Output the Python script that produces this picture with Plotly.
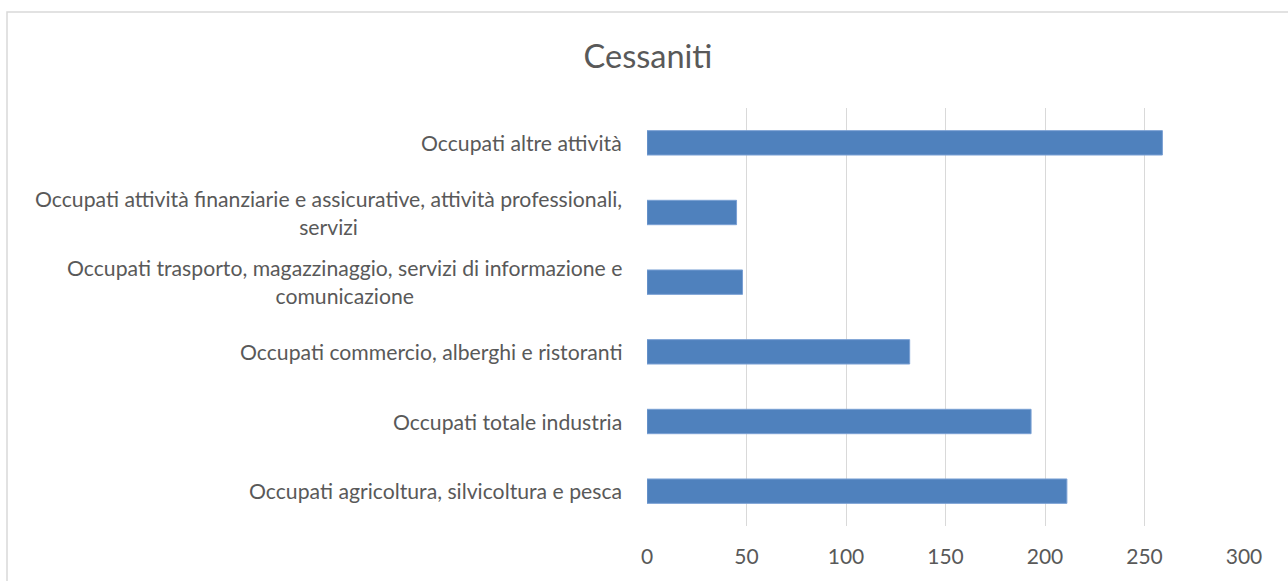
import plotly.graph_objects as go

# Occupati per settore - Cessaniti
categories = [
    "Occupati agricoltura, silvicoltura e pesca",
    "Occupati totale industria",
    "Occupati commercio, alberghi e ristoranti",
    "Occupati trasporto, magazzinaggio, servizi di informazione e<br>comunicazione",
    "Occupati attività finanziarie e assicurative, attività professionali,<br>servizi",
    "Occupati altre attività",
]
values = [211, 193, 132, 48, 45, 259]
x_ticks = [0, 50, 100, 150, 200, 250, 300]

W, H = 1288, 581
L, R, T, B = 647, 44, 108, 55
pw, ph = W - L - R, H - T - B

FONT = "Lato, 'Open Sans', sans-serif"
GREY = "#595959"

fig = go.Figure(
    go.Bar(
        x=values,
        y=list(range(len(categories))),
        orientation="h",
        width=0.35,
        marker=dict(color="#4f81bd", line=dict(color="#7aa0d4", width=1)),
        hoverinfo="skip",
    )
)

# Category labels, centred line by line and right-aligned beside the axis
for i, cat in enumerate(categories):
    fig.add_annotation(
        x=(624 - L) / pw, xref="paper", xanchor="right",
        y=i, yref="y", yanchor="middle",
        text=cat, showarrow=False, align="center",
        font=dict(family=FONT, size=21.2, color=GREY),
    )

# Outer chart frame
fig.add_shape(
    type="rect", xref="paper", yref="paper",
    x0=(7 - L) / pw, x1=(W + 5 - L) / pw,
    y0=-(B + 5) / ph, y1=1 + (T - 12) / ph,
    line=dict(color="#d9d9d9", width=1.5), fillcolor="rgba(0,0,0,0)", layer="below",
)

fig.update_layout(
    width=W, height=H,
    margin=dict(l=L, r=R, t=T, b=B),
    paper_bgcolor="white", plot_bgcolor="white",
    title=dict(text="Cessaniti", x=648 / W, xanchor="center", y=1 - 57 / H, yanchor="middle",
               font=dict(family=FONT, size=32.5, color=GREY)),
    xaxis=dict(range=[0, 300], tickvals=x_ticks, showgrid=True, gridcolor="#d9d9d9", gridwidth=1,
               zeroline=False, showline=False, ticks="", tickfont=dict(family=FONT, size=21, color=GREY),
               ticklabelstandoff=16, fixedrange=True),
    yaxis=dict(range=[-0.5, len(categories) - 0.5], showticklabels=False, showgrid=False,
               zeroline=False, showline=False, ticks="", fixedrange=True),
    showlegend=False,
)

fig.write_html("out.html")
